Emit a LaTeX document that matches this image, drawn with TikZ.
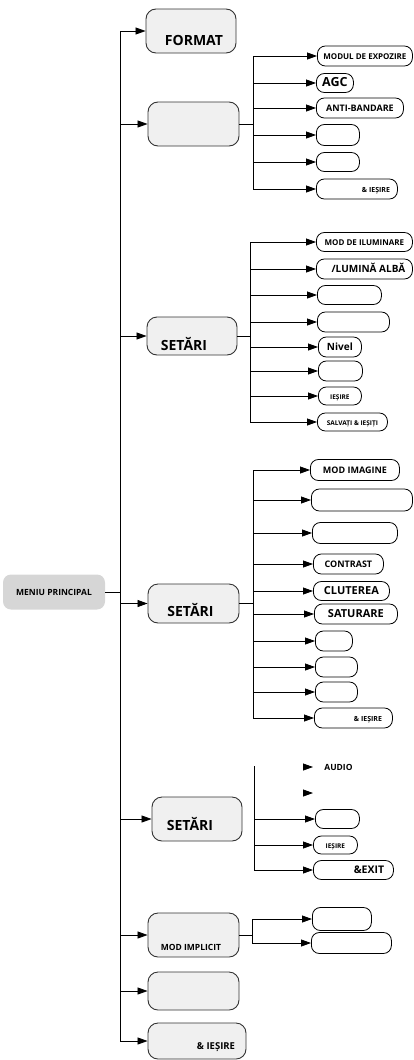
\documentclass[tikz,border=0pt]{standalone}
\usepackage{fontspec}
\setmainfont{Open Sans}
\usetikzlibrary{arrows.meta}

\newcommand{\fsz}[1]{\fontsize{#1}{#1}\selectfont\bfseries}

\begin{document}
\begin{tikzpicture}[
        x=1pt, y=-1pt,
        line width=0.8pt,
        arr/.style={-{Triangle[length=10pt,width=7pt]}},
        menu/.style={fill=black!16, rounded corners=8pt, minimum width=102pt,
            minimum height=35pt, inner sep=0pt, text height=0.72em, text depth=0pt},
        top/.style={draw=black!80, fill=black!6, rounded corners=10pt,
            minimum width=91pt, minimum height=44pt, line width=0.9pt},
        item/.style={draw, fill=white, rounded corners=8pt, minimum height=20pt,
            inner sep=0pt, anchor=west, text height=0.72em, text depth=0pt},
        lbl/.style={inner sep=0pt, text height=0.72em, text depth=0pt}
        ]
    \useasboundingbox (0,0) rectangle (413,1060);

    % main menu and trunk
    \node[menu, font=\fsz{8.5}] (MAIN) at (54,592) {MENIU PRINCIPAL};
    \coordinate (TRUNK) at (120,592);

    % first level
    \node[top, minimum width=90pt] (FORMAT) at (191,31) {};
    \node[lbl, font=\fsz{14}] (FORMATTXT) at (194,42) {FORMAT};
    \node[top] (CAM) at (193.5,124) {};
    \node[top, minimum width=90pt, minimum height=38pt] (LIGHT) at (192,336) {};
    \node[lbl, font=\fsz{14}] (LIGHTTXT) at (184,347) {SETĂRI};
    \node[top, minimum height=39pt] (IMAGE) at (193.5,603.5) {};
    \node[lbl, font=\fsz{14}] (IMAGETXT) at (190.5,613) {SETĂRI};
    \node[top, minimum width=90pt] (SOUND) at (197,819) {};
    \node[lbl, font=\fsz{14}] (SOUNDTXT) at (190,827) {SETĂRI};
    \node[top] (DEFAULT) at (193.5,935) {};
    \node[lbl, font=\fsz{8.5}] (DEFAULTTXT) at (191,947) {MOD IMPLICIT};
    \node[top, minimum height=38pt] (BLANK) at (193.5,991) {};
    \node[top, minimum width=98pt, minimum height=36pt] (EXIT) at (197,1041) {};
    \node[lbl, font=\fsz{9.5}] (EXITTXT) at (216,1046) {\& IEȘIRE};

    \draw (MAIN.east) -- (TRUNK);
    \draw (TRUNK |- FORMAT.west) -- (TRUNK |- EXIT.west);
    \foreach \n in {FORMAT,CAM,LIGHT,IMAGE,SOUND,DEFAULT,BLANK,EXIT}
        \draw[arr] (TRUNK |- \n.west) -- (\n.west);

    % camera group
    \coordinate (CAMBUS) at (253,124);
    \node[item, minimum width=95pt, font=\fsz{8}] (EXPO) at (317,56) {MODUL DE EXPOZIRE};
    \node[item, minimum width=37pt, minimum height=19pt, font=\fsz{12.5}] (AGC) at (316,83) {AGC};
    \node[item, minimum width=87pt, font=\fsz{9}] (ANTI) at (316,108) {ANTI-BANDARE};
    \node[item, minimum width=43pt, minimum height=21pt] (CAMA) at (316,135) {};
    \node[item, minimum width=43pt, minimum height=19pt] (CAMB) at (316,162) {};
    \node[item, minimum width=81pt] (CAMEXIT) at (316,189) {};
    \node[lbl, font=\fsz{7}] (CAMEXITTXT) at (376,189) {\& IEȘIRE};

    \draw (CAM.east) -- (CAMBUS);
    \draw (CAMBUS |- EXPO.west) -- (CAMBUS |- CAMEXIT.west);
    \foreach \n in {EXPO,AGC,ANTI,CAMA,CAMB,CAMEXIT}
        \draw[arr] (CAMBUS |- \n.west) -- (\n.west);

    % light group
    \coordinate (LIGHTBUS) at (250,336);
    \node[item, minimum width=96pt, minimum height=19pt, font=\fsz{8}] (ILUM) at (316,242) {MOD DE ILUMINARE};
    \node[item, minimum width=96pt, font=\fsz{10}] (WHITE) at (316,269) {\hspace{8pt}/LUMINĂ ALBĂ};
    \node[item, minimum width=64pt, minimum height=19pt] (LIGHTA) at (317,295) {};
    \node[item, minimum width=72pt] (LIGHTB) at (317,322) {};
    \node[item, minimum width=43pt, font=\fsz{10}] (LEVEL) at (318,347) {Nivel};
    \node[item, minimum width=44pt] (LIGHTC) at (318,371) {};
    \node[item, minimum width=43pt, minimum height=18pt, font=\fsz{6.5}] (LIGHTQ) at (318,396) {IEȘIRE\hspace{6pt}};
    \node[item, minimum width=70pt, minimum height=18pt, font=\fsz{6.5}] (LIGHTSAVE) at (317,422) {SALVAȚI \& IEȘIȚI};

    \draw (LIGHT.east) -- (LIGHTBUS);
    \draw (LIGHTBUS |- ILUM.west) -- (LIGHTBUS |- LIGHTSAVE.west);
    \foreach \n in {ILUM,WHITE,LIGHTA,LIGHTB,LEVEL,LIGHTC,LIGHTQ,LIGHTSAVE}
        \draw[arr] (LIGHTBUS |- \n.west) -- (\n.west);

    % image group
    \coordinate (IMGBUS) at (253,606);
    \node[item, minimum width=89pt, minimum height=21pt, font=\fsz{9}] (IMGMODE) at (310,470) {MOD IMAGINE};
    \node[item, minimum width=101pt, minimum height=22pt] (IMGA) at (311,500) {};
    \node[item, minimum width=85pt, minimum height=21pt] (IMGB) at (312,533) {};
    \node[item, minimum width=70pt, font=\fsz{9}] (CONTR) at (313,564) {CONTRAST};
    \node[item, minimum width=76pt, minimum height=19pt, font=\fsz{11}] (BRIGHT) at (313,591) {CLUTEREA};
    \node[item, minimum width=83pt, font=\fsz{11}] (SATUR) at (314,614) {SATURARE};
    \node[item, minimum width=37pt] (IMGC) at (315,641) {};
    \node[item, minimum width=42pt] (IMGD) at (315,667) {};
    \node[item, minimum width=42pt] (IMGE) at (315,692) {};
    \node[item, minimum width=78pt] (IMGEXIT) at (314,718) {};
    \node[lbl, font=\fsz{7}] (IMGEXITTXT) at (368,718) {\& IEȘIRE};

    \draw (IMAGE.east) -- (IMAGE.east -| IMGBUS);
    \draw (IMGBUS |- IMGMODE.west) -- (IMGBUS |- IMGEXIT.west);
    \foreach \n in {IMGMODE,IMGA,IMGB,CONTR,BRIGHT,SATUR,IMGC,IMGD,IMGE,IMGEXIT}
        \draw[arr] (IMGBUS |- \n.west) -- (\n.west);

    % sound group
    \coordinate (SNDBUS) at (254,766);
    \coordinate (SNDTIPA) at (313,767);
    \coordinate (SNDTIPB) at (313,793);
    \node[lbl, anchor=west, font=\fsz{8.5}] (SNDTXT) at (324,767) {AUDIO};
    \node[item, minimum width=44pt, minimum height=19pt] (SNDA) at (315,819) {};
    \node[item, minimum width=44pt, minimum height=18pt, font=\fsz{6.5}] (SNDQ) at (313,845) {IEȘIRE};
    \node[item, minimum width=80pt, minimum height=19pt] (SNDEXIT) at (313,870) {};
    \node[lbl, font=\fsz{10.5}] (SNDEXITTXT) at (369,870) {\&EXIT};

    \draw (SNDBUS) -- (SNDBUS |- SNDEXIT.west);
    \foreach \n in {SNDTIPA,SNDTIPB}
        \draw[arr] ([xshift=-10pt]\n) -- (\n);
    \foreach \n in {SNDA,SNDQ,SNDEXIT}
        \draw[arr] (SNDBUS |- \n.west) -- (\n.west);

    % default group
    \coordinate (DEFBUS) at (252,933);
    \node[item, minimum width=59pt, minimum height=23pt] (DEFA) at (312,919) {};
    \node[item, minimum width=80pt, minimum height=21pt] (DEFB) at (311,943) {};

    \draw (DEFAULT.east) -- (DEFAULT.east -| DEFBUS);
    \draw (DEFBUS |- DEFA.west) -- (DEFBUS |- DEFB.west);
    \foreach \n in {DEFA,DEFB}
        \draw[arr] (DEFBUS |- \n.west) -- (\n.west);
\end{tikzpicture}
\end{document}
